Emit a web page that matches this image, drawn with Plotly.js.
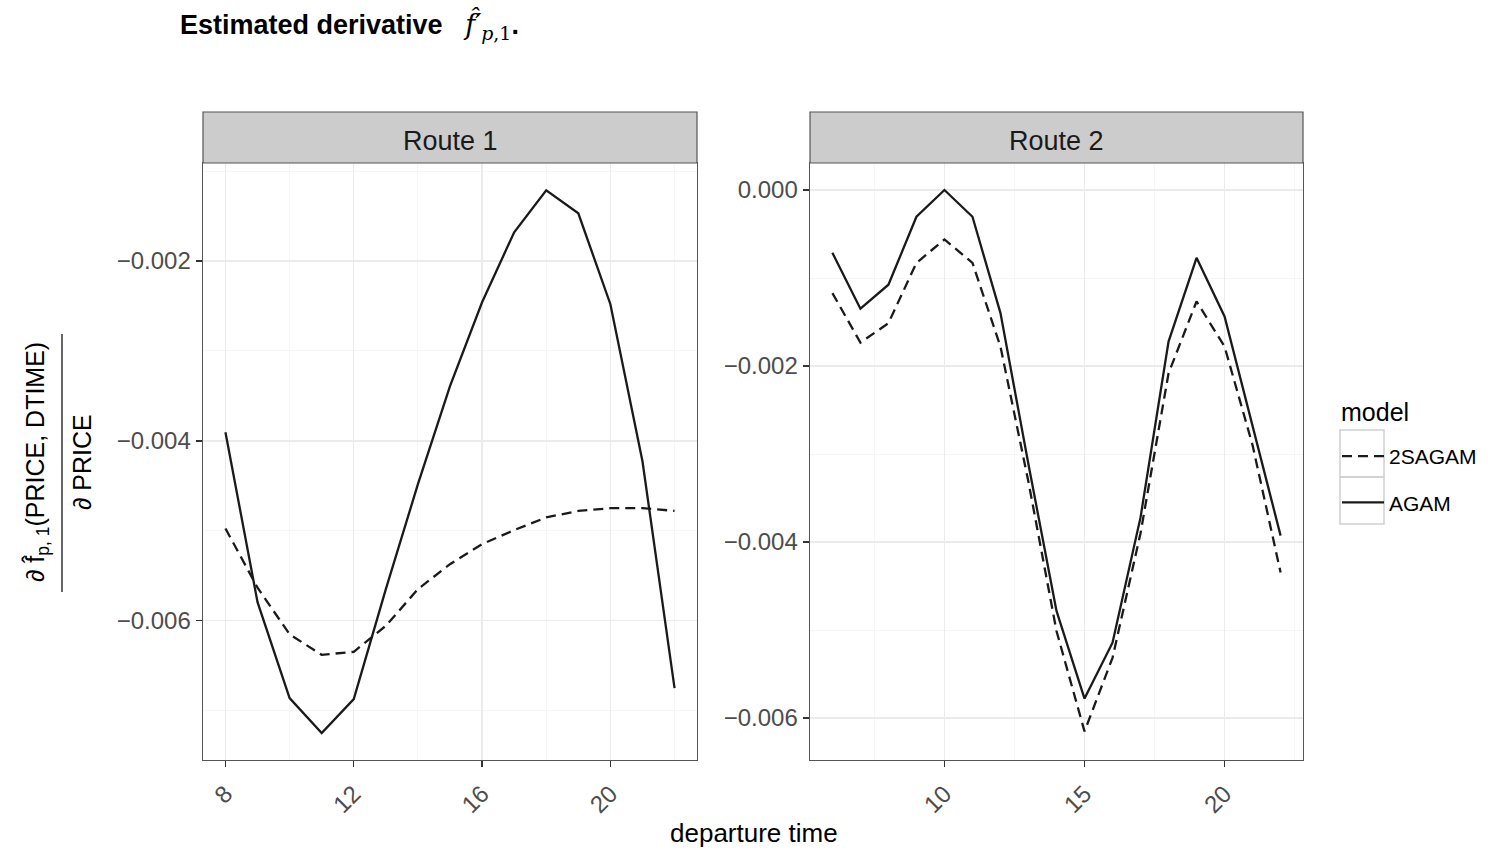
<!DOCTYPE html>
<html>
<head>
<meta charset="utf-8">
<script src="https://cdn.plot.ly/plotly-3.0.1.min.js"></script>
<style>html,body{margin:0;padding:0;background:#fff;}#chart{width:1488px;height:850px;}</style>
</head>
<body>
<div id="chart"></div>
<script>
// ---- data ----
const hoursRoute1 = [8, 9, 10, 11, 12, 13, 14, 15, 16, 17, 18, 19, 20, 21, 22];
const agamRoute1 = [-0.003903, -0.005792, -0.006859, -0.007248, -0.006870, -0.005648, -0.004481, -0.003392, -0.002459, -0.001681, -0.001214, -0.001470, -0.002481, -0.004226, -0.006748];
const sagamRoute1 = [-0.004973, -0.005631, -0.006150, -0.006378, -0.006344, -0.006055, -0.005648, -0.005370, -0.005148, -0.004992, -0.004851, -0.004778, -0.004748, -0.004748, -0.004778];

const hoursRoute2 = [6, 7, 8, 9, 10, 11, 12, 13, 14, 15, 16, 17, 18, 19, 20, 21, 22];
const agamRoute2 = [-0.000714, -0.001349, -0.001076, -0.000304, 0.000000, -0.000304, -0.001399, -0.003120, -0.004783, -0.005779, -0.005144, -0.003720, -0.001722, -0.000771, -0.001437, -0.002680, -0.003927];
const sagamRoute2 = [-0.001171, -0.001734, -0.001513, -0.000828, -0.000562, -0.000828, -0.001780, -0.003319, -0.005011, -0.006152, -0.005316, -0.003900, -0.002083, -0.001266, -0.001779, -0.002900, -0.004346];

const modelNames = ['2SAGAM', 'AGAM'];
const routeNames = ['Route 1', 'Route 2'];
const legendTitle = 'model';
const xTitle = 'departure time';

// ---- styling ----
const FONT = 'Liberation Sans, Arial, sans-serif';
const lineCol = '#1a1a1a';
const dashStyle = '10px,6px';

const traces = [
  {x: hoursRoute1, y: sagamRoute1, xaxis: 'x', yaxis: 'y', name: modelNames[0], legendgroup: 'g1', showlegend: true,
   mode: 'lines', line: {color: lineCol, width: 2.3, dash: dashStyle}},
  {x: hoursRoute1, y: agamRoute1, xaxis: 'x', yaxis: 'y', name: modelNames[1], legendgroup: 'g2', showlegend: true,
   mode: 'lines', line: {color: lineCol, width: 2.3}},
  {x: hoursRoute2, y: sagamRoute2, xaxis: 'x2', yaxis: 'y2', name: modelNames[0], legendgroup: 'g1', showlegend: false,
   mode: 'lines', line: {color: lineCol, width: 2.3, dash: dashStyle}},
  {x: hoursRoute2, y: agamRoute2, xaxis: 'x2', yaxis: 'y2', name: modelNames[1], legendgroup: 'g2', showlegend: false,
   mode: 'lines', line: {color: lineCol, width: 2.3}}
];

const W = 1488, H = 850;
const px = v => v / W;
const py = v => 1 - v / H;

const dom1 = [px(203), px(697)];
const dom2 = [px(810), px(1303)];
const ydom = [py(760), py(163)];

function xAxis(domain, range, dtick, minorD, anchor) {
  return {
    domain: domain, range: range, anchor: anchor,
    tickmode: 'linear', tick0: 0, dtick: dtick,
    tickangle: -45, ticks: 'outside', ticklen: 6, tickwidth: 1.3, tickcolor: '#333',
    tickfont: {family: FONT, size: 24, color: '#4d4d4d'},
    ticklabelstandoff: 3,
    showline: true, mirror: true, linecolor: '#555', linewidth: 1.4,
    showgrid: true, gridcolor: '#ebebeb', gridwidth: 1.3, zeroline: false,
    minor: {dtick: minorD, tick0: 0, showgrid: true, gridcolor: '#f4f4f4', gridwidth: 0.8}
  };
}
function yAxis(range, anchor) {
  return {
    domain: ydom, range: range, anchor: anchor,
    tickmode: 'linear', tick0: 0, dtick: 0.002, tickformat: '.3f',
    ticks: 'outside', ticklen: 6, tickwidth: 1.3, tickcolor: '#333',
    tickfont: {family: FONT, size: 24, color: '#4d4d4d'},
    showline: true, mirror: true, linecolor: '#555', linewidth: 1.4,
    showgrid: true, gridcolor: '#ebebeb', gridwidth: 1.3, zeroline: false,
    minor: {dtick: 0.001, tick0: 0, showgrid: true, gridcolor: '#f4f4f4', gridwidth: 0.8}
  };
}

const shapes = [];
const annotations = [];
// strips
[['x', routeNames[0]], ['x2', routeNames[1]]].forEach(([ax, label]) => {
  shapes.push({type: 'rect', xref: ax + ' domain', yref: 'paper', x0: 0, x1: 1, y0: py(163), y1: py(112),
    fillcolor: '#cccccc', line: {color: '#555', width: 1.2}, layer: 'above'});
  annotations.push({xref: ax + ' domain', yref: 'paper', x: 0.5, y: py(141), text: label, showarrow: false,
    xanchor: 'center', yanchor: 'middle', font: {family: FONT, size: 27, color: '#1a1a1a'}});
});
// legend key boxes
shapes.push({type: 'rect', xref: 'paper', yref: 'paper', x0: px(1340), x1: px(1384), y0: py(477), y1: py(430),
  fillcolor: 'rgba(0,0,0,0)', line: {color: '#cfcfcf', width: 1.5}});
shapes.push({type: 'rect', xref: 'paper', yref: 'paper', x0: px(1340), x1: px(1384), y0: py(524), y1: py(477),
  fillcolor: 'rgba(0,0,0,0)', line: {color: '#cfcfcf', width: 1.5}});
// legend title
annotations.push({xref: 'paper', yref: 'paper', x: px(1339), y: py(412), showarrow: false,
  xanchor: 'left', yanchor: 'middle', text: legendTitle, font: {family: FONT, size: 25, color: '#000'}});
// y-axis fraction title
shapes.push({type: 'line', xref: 'paper', yref: 'paper', x0: px(62), x1: px(62), y0: py(592), y1: py(334),
  line: {color: '#333', width: 1.5}});
annotations.push({xref: 'paper', yref: 'paper', x: px(37), y: py(462), textangle: -90, showarrow: false,
  xanchor: 'center', yanchor: 'middle',
  text: '\u2202 f\u0302<sub>p, 1</sub>(PRICE, DTIME)', font: {family: FONT, size: 25, color: '#000'}});
annotations.push({xref: 'paper', yref: 'paper', x: px(82), y: py(462), textangle: -90, showarrow: false,
  xanchor: 'center', yanchor: 'middle',
  text: '\u2202 PRICE', font: {family: FONT, size: 25, color: '#000'}});
// x title
annotations.push({xref: 'paper', yref: 'paper', x: px(754), y: py(833), showarrow: false,
  xanchor: 'center', yanchor: 'middle', text: xTitle, font: {family: FONT, size: 26, color: '#000'}});
// main title
annotations.push({xref: 'paper', yref: 'paper', x: px(178), y: py(25), showarrow: false,
  xanchor: 'left', yanchor: 'middle',
  text: '<b>Estimated derivative</b>   <span style="font-family:DejaVu Serif"><i>f\u0302\u2032</i><sub><i>p</i>,1</sub></span><b>.</b>',
  font: {family: FONT, size: 27, color: '#000'}});

const layout = {
  width: W, height: H,
  margin: {l: 0, r: 0, t: 0, b: 0},
  paper_bgcolor: '#fff', plot_bgcolor: '#fff',
  font: {family: FONT, color: '#000'},
  xaxis: xAxis(dom1, [7.3, 22.7], 4, 2, 'y'),
  yaxis: yAxis([-0.007547, -0.000911], 'x'),
  xaxis2: xAxis(dom2, [5.2, 22.8], 5, 2.5, 'y2'),
  yaxis2: yAxis([-0.006477, 0.000307], 'x2'),
  showlegend: true,
  legend: {
    x: px(1337), xanchor: 'left', y: py(436), yanchor: 'top',
    font: {family: FONT, size: 21, color: '#000'},
    itemwidth: 42, tracegroupgap: 16, traceorder: 'grouped',
    bgcolor: 'rgba(0,0,0,0)', borderwidth: 0
  },
  shapes: shapes,
  annotations: annotations
};

Plotly.newPlot('chart', traces, layout, {displayModeBar: false, staticPlot: true});
</script>
</body>
</html>
